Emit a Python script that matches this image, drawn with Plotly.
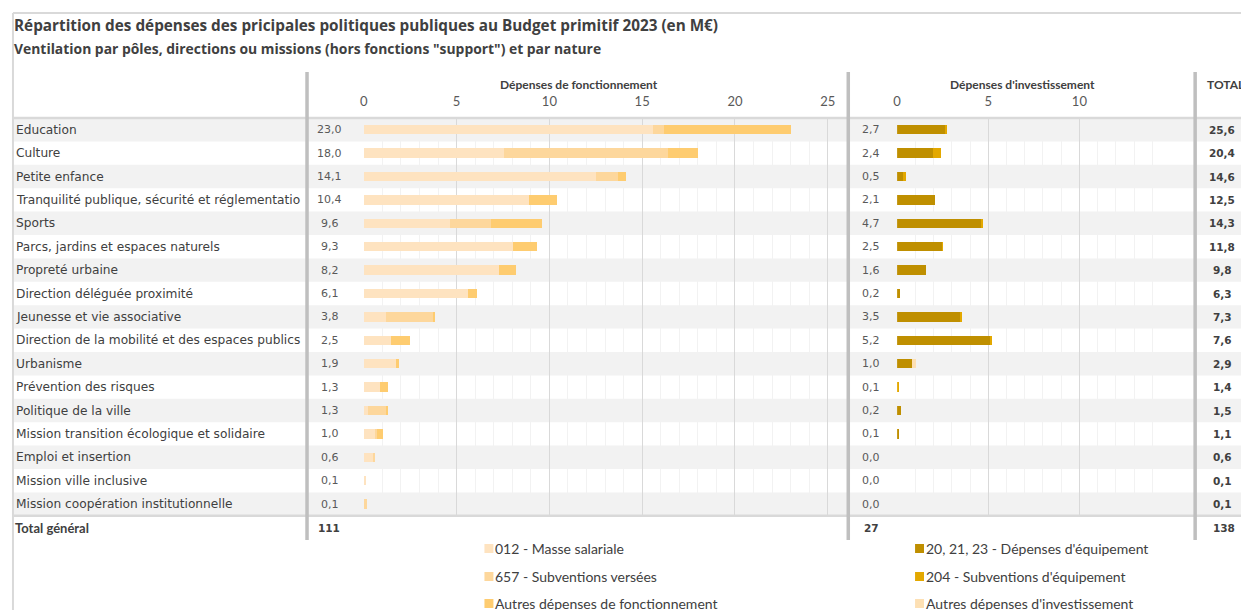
import plotly.graph_objects as go

W, H = 1241, 610

categories = [
    "Education", "Culture", "Petite enfance",
    "Tranquilité publique, sécurité et réglementatio",
    "Sports", "Parcs, jardins et espaces naturels", "Propreté urbaine",
    "Direction déléguée proximité", "Jeunesse et vie associative",
    "Direction de la mobilité et des espaces publics", "Urbanisme",
    "Prévention des risques", "Politique de la ville",
    "Mission transition écologique et solidaire", "Emploi et insertion",
    "Mission ville inclusive", "Mission coopération institutionnelle",
]

# Dépenses de fonctionnement (M€)
fonct_masse = [15.6, 7.55, 12.5, 8.9, 4.65, 8.05, 7.3, 5.6, 1.2, 1.45, 1.7, 0.85, 0.2, 0.6, 0.5, 0.1, 0.0]
fonct_subv = [0.55, 8.85, 1.2, 0.0, 2.2, 0.0, 0.0, 0.0, 2.55, 0.0, 0.0, 0.0, 1.0, 0.1, 0.1, 0.0, 0.14]
fonct_autres = [6.85, 1.6, 0.4, 1.5, 2.75, 1.25, 0.9, 0.5, 0.05, 1.05, 0.2, 0.45, 0.1, 0.3, 0.0, 0.0, 0.0]

# Dépenses d'investissement (M€)
inv_equip = [2.65, 2.0, 0.33, 2.1, 4.65, 2.47, 1.6, 0.15, 3.48, 5.15, 0.84, 0.0, 0.24, 0.06, 0.0, 0.0, 0.0]
inv_subv = [0.05, 0.4, 0.17, 0.0, 0.07, 0.03, 0.0, 0.0, 0.07, 0.05, 0.0, 0.08, 0.0, 0.0, 0.0, 0.0, 0.0]
inv_autres = [0.0, 0.0, 0.0, 0.0, 0.0, 0.0, 0.0, 0.0, 0.0, 0.0, 0.2, 0.0, 0.0, 0.0, 0.0, 0.0, 0.0]

fonct_total_lbl = ["23,0", "18,0", "14,1", "10,4", "9,6", "9,3", "8,2", "6,1", "3,8", "2,5", "1,9", "1,3", "1,3", "1,0", "0,6", "0,1", "0,1"]
inv_total_lbl = ["2,7", "2,4", "0,5", "2,1", "4,7", "2,5", "1,6", "0,2", "3,5", "5,2", "1,0", "0,1", "0,2", "0,1", "0,0", "0,0", "0,0"]
total_lbl = ["25,6", "20,4", "14,6", "12,5", "14,3", "11,8", "9,8", "6,3", "7,3", "7,6", "2,9", "1,4", "1,5", "1,1", "0,6", "0,1", "0,1"]
grand_totals = ["111", "27", "138"]

fonct_names = ["012 - Masse salariale", "657 - Subventions versées", "Autres dépenses de fonctionnement"]
inv_names = ["20, 21, 23 - Dépenses d'équipement", "204 - Subventions d'équipement", "Autres dépenses d'investissement"]
fonct_colors = ["#FEE3C0", "#FDD79C", "#FECC70"]
inv_colors = ["#BF8F00", "#E3A800", "#FDE0B4"]

title = "Répartition des dépenses des pricipales politiques publiques au Budget primitif 2023 (en M€)"
subtitle = "Ventilation par pôles, directions ou missions (hors fonctions \"support\") et par nature"


def px(x):
    return x / W


def py(y):
    return 1 - y / H


TOP, ROWH = 118, 23.4
n = len(categories)
BOT = TOP + n * ROWH

fig = go.Figure()
BW = 0.4
for vals, name, col in zip([fonct_masse, fonct_subv, fonct_autres], fonct_names, fonct_colors):
    fig.add_trace(go.Bar(y=categories, x=vals, orientation="h", name=name, marker_color=col,
                         marker_line_width=0, width=BW, xaxis="x", yaxis="y", showlegend=False))
for vals, name, col in zip([inv_equip, inv_subv, inv_autres], inv_names, inv_colors):
    fig.add_trace(go.Bar(y=categories, x=vals, orientation="h", name=name, marker_color=col,
                         marker_line_width=0, width=BW, xaxis="x2", yaxis="y", showlegend=False))

shapes = []
annotations = []
GREY = "#F2F2F2"
for i in range(n):
    if i % 2 == 0:
        shapes.append(dict(type="rect", xref="paper", yref="y", x0=px(10), x1=1,
                           y0=i - 0.5, y1=i + 0.5, fillcolor=GREY, line_width=0, layer="below"))

LBL_FONT = dict(family="DejaVu Sans", size=12.2, color="#404040")
VAL_FONT = dict(family="DejaVu Sans", size=11, color="#595959")
for i, c in enumerate(categories):
    annotations.append(dict(text=c, xref="paper", yref="y", x=px(10), y=c, xanchor="left",
                            yanchor="middle", showarrow=False, font=LBL_FONT))
    annotations.append(dict(text=fonct_total_lbl[i], xref="paper", yref="y", x=px(327), y=c,
                            xanchor="center", yanchor="middle", showarrow=False, font=VAL_FONT))
    annotations.append(dict(text=inv_total_lbl[i], xref="paper", yref="y", x=px(870), y=c,
                            xanchor="center", yanchor="middle", showarrow=False, font=VAL_FONT))
    annotations.append(dict(text="<b>" + total_lbl[i] + "</b>", xref="paper", yref="y", x=px(1222), y=c,
                            xanchor="center", yanchor="middle", showarrow=False,
                            font=dict(family="DejaVu Sans", size=10.5, color="#404040")))

# total row
ty = BOT + 12
annotations.append(dict(text="<b>Total général</b>", xref="paper", yref="paper", x=px(9), y=py(ty),
                        xanchor="left", yanchor="middle", showarrow=False,
                        font=dict(family="Lato", size=13, color="#404040")))
for xx, t in zip([326, 870, 1224], grand_totals):
    annotations.append(dict(text="<b>" + t + "</b>", xref="paper", yref="paper", x=px(xx), y=py(ty),
                            xanchor="center", yanchor="middle", showarrow=False,
                            font=dict(family="DejaVu Sans", size=10.5, color="#404040")))

# titles
annotations.append(dict(text="<b>" + title + "</b>", xref="paper", yref="paper", x=px(8), y=py(25),
                        xanchor="left", yanchor="middle", showarrow=False,
                        font=dict(family="Open Sans", size=15.3, color="#404040")))
annotations.append(dict(text="<b>" + subtitle + "</b>", xref="paper", yref="paper", x=px(8), y=py(48),
                        xanchor="left", yanchor="middle", showarrow=False,
                        font=dict(family="Open Sans", size=13.9, color="#404040")))
HDR_FONT = dict(family="Lato", size=12, color="#404040")
annotations.append(dict(text="<b>Dépenses de fonctionnement</b>", xref="paper", yref="paper", x=px(577), y=py(84),
                        xanchor="center", yanchor="middle", showarrow=False, font=HDR_FONT))
annotations.append(dict(text="<b>Dépenses d'investissement</b>", xref="paper", yref="paper", x=px(1022), y=py(84),
                        xanchor="center", yanchor="middle", showarrow=False, font=HDR_FONT))
annotations.append(dict(text="<b>TOTAL</b>", xref="paper", yref="paper", x=px(1205), y=py(84),
                        xanchor="left", yanchor="middle", showarrow=False, font=HDR_FONT))

# frame & separators
LINE = "#D9D9D9"
shapes.append(dict(type="line", xref="paper", yref="paper", x0=px(9), x1=1, y0=py(13), y1=py(13),
                   line=dict(color=LINE, width=2)))
shapes.append(dict(type="line", xref="paper", yref="paper", x0=px(9), x1=px(9), y0=py(13), y1=0,
                   line=dict(color=LINE, width=2)))
for yy in [TOP, BOT]:
    shapes.append(dict(type="line", xref="paper", yref="paper", x0=px(9), x1=1, y0=py(yy), y1=py(yy),
                       line=dict(color=LINE, width=2.5)))
for xx in [304, 847, 1195]:
    shapes.append(dict(type="line", xref="paper", yref="paper", x0=px(xx), x1=px(xx), y0=py(72), y1=py(540),
                       line=dict(color="#BFBFBF", width=3.5)))

# legend (manual)
LEG_FONT = dict(family="Lato", size=14, color="#404040")
leg_y = [548, 576, 603]
for k in range(3):
    for (lx, names, cols) in [(482, fonct_names, fonct_colors), (914, inv_names, inv_colors)]:
        shapes.append(dict(type="rect", xref="paper", yref="paper", x0=px(lx), x1=px(lx + 9),
                           y0=py(leg_y[k] + 5), y1=py(leg_y[k] - 4), fillcolor=cols[k], line_width=0))
        annotations.append(dict(text=names[k], xref="paper", yref="paper", x=px(lx + 9), y=py(leg_y[k]),
                                xanchor="left", yanchor="middle", showarrow=False, font=LEG_FONT))

TICK_FONT = dict(family="Lato", size=13, color="#595959")
fig.update_layout(
    width=W, height=H, autosize=False,
    margin=dict(l=0, r=0, t=0, b=0),
    paper_bgcolor="white", plot_bgcolor="rgba(0,0,0,0)",
    barmode="stack", bargap=0,
    showlegend=False,
    shapes=shapes, annotations=annotations,
    xaxis=dict(domain=[px(361), px(845)], range=[0, 26], side="top", anchor="y",
               dtick=5, showgrid=True, gridcolor="#D9D9D9", gridwidth=1,
               minor=dict(dtick=1, showgrid=True, gridcolor=GREY, gridwidth=1),
               zeroline=False, showline=False, ticks="", tickfont=TICK_FONT, ticklabelstandoff=8,
               fixedrange=True),
    xaxis2=dict(domain=[px(896), px(1163)], range=[0, 14.6], side="top", anchor="y",
                dtick=5, showgrid=True, gridcolor="#D9D9D9", gridwidth=1,
                minor=dict(dtick=1, showgrid=True, gridcolor=GREY, gridwidth=1),
                zeroline=False, showline=False, ticks="", tickfont=TICK_FONT, ticklabelstandoff=8,
                fixedrange=True),
    yaxis=dict(domain=[py(BOT), py(TOP)], range=[n - 0.5, -0.5], type="category",
               categoryorder="array", categoryarray=categories,
               showticklabels=False, showgrid=False, zeroline=False, showline=False, fixedrange=True),
)

fig.write_html(
    "out.html",
    config={"displayModeBar": False},
    post_script="document.body.style.margin='0';document.body.style.overflow='hidden';",
)
